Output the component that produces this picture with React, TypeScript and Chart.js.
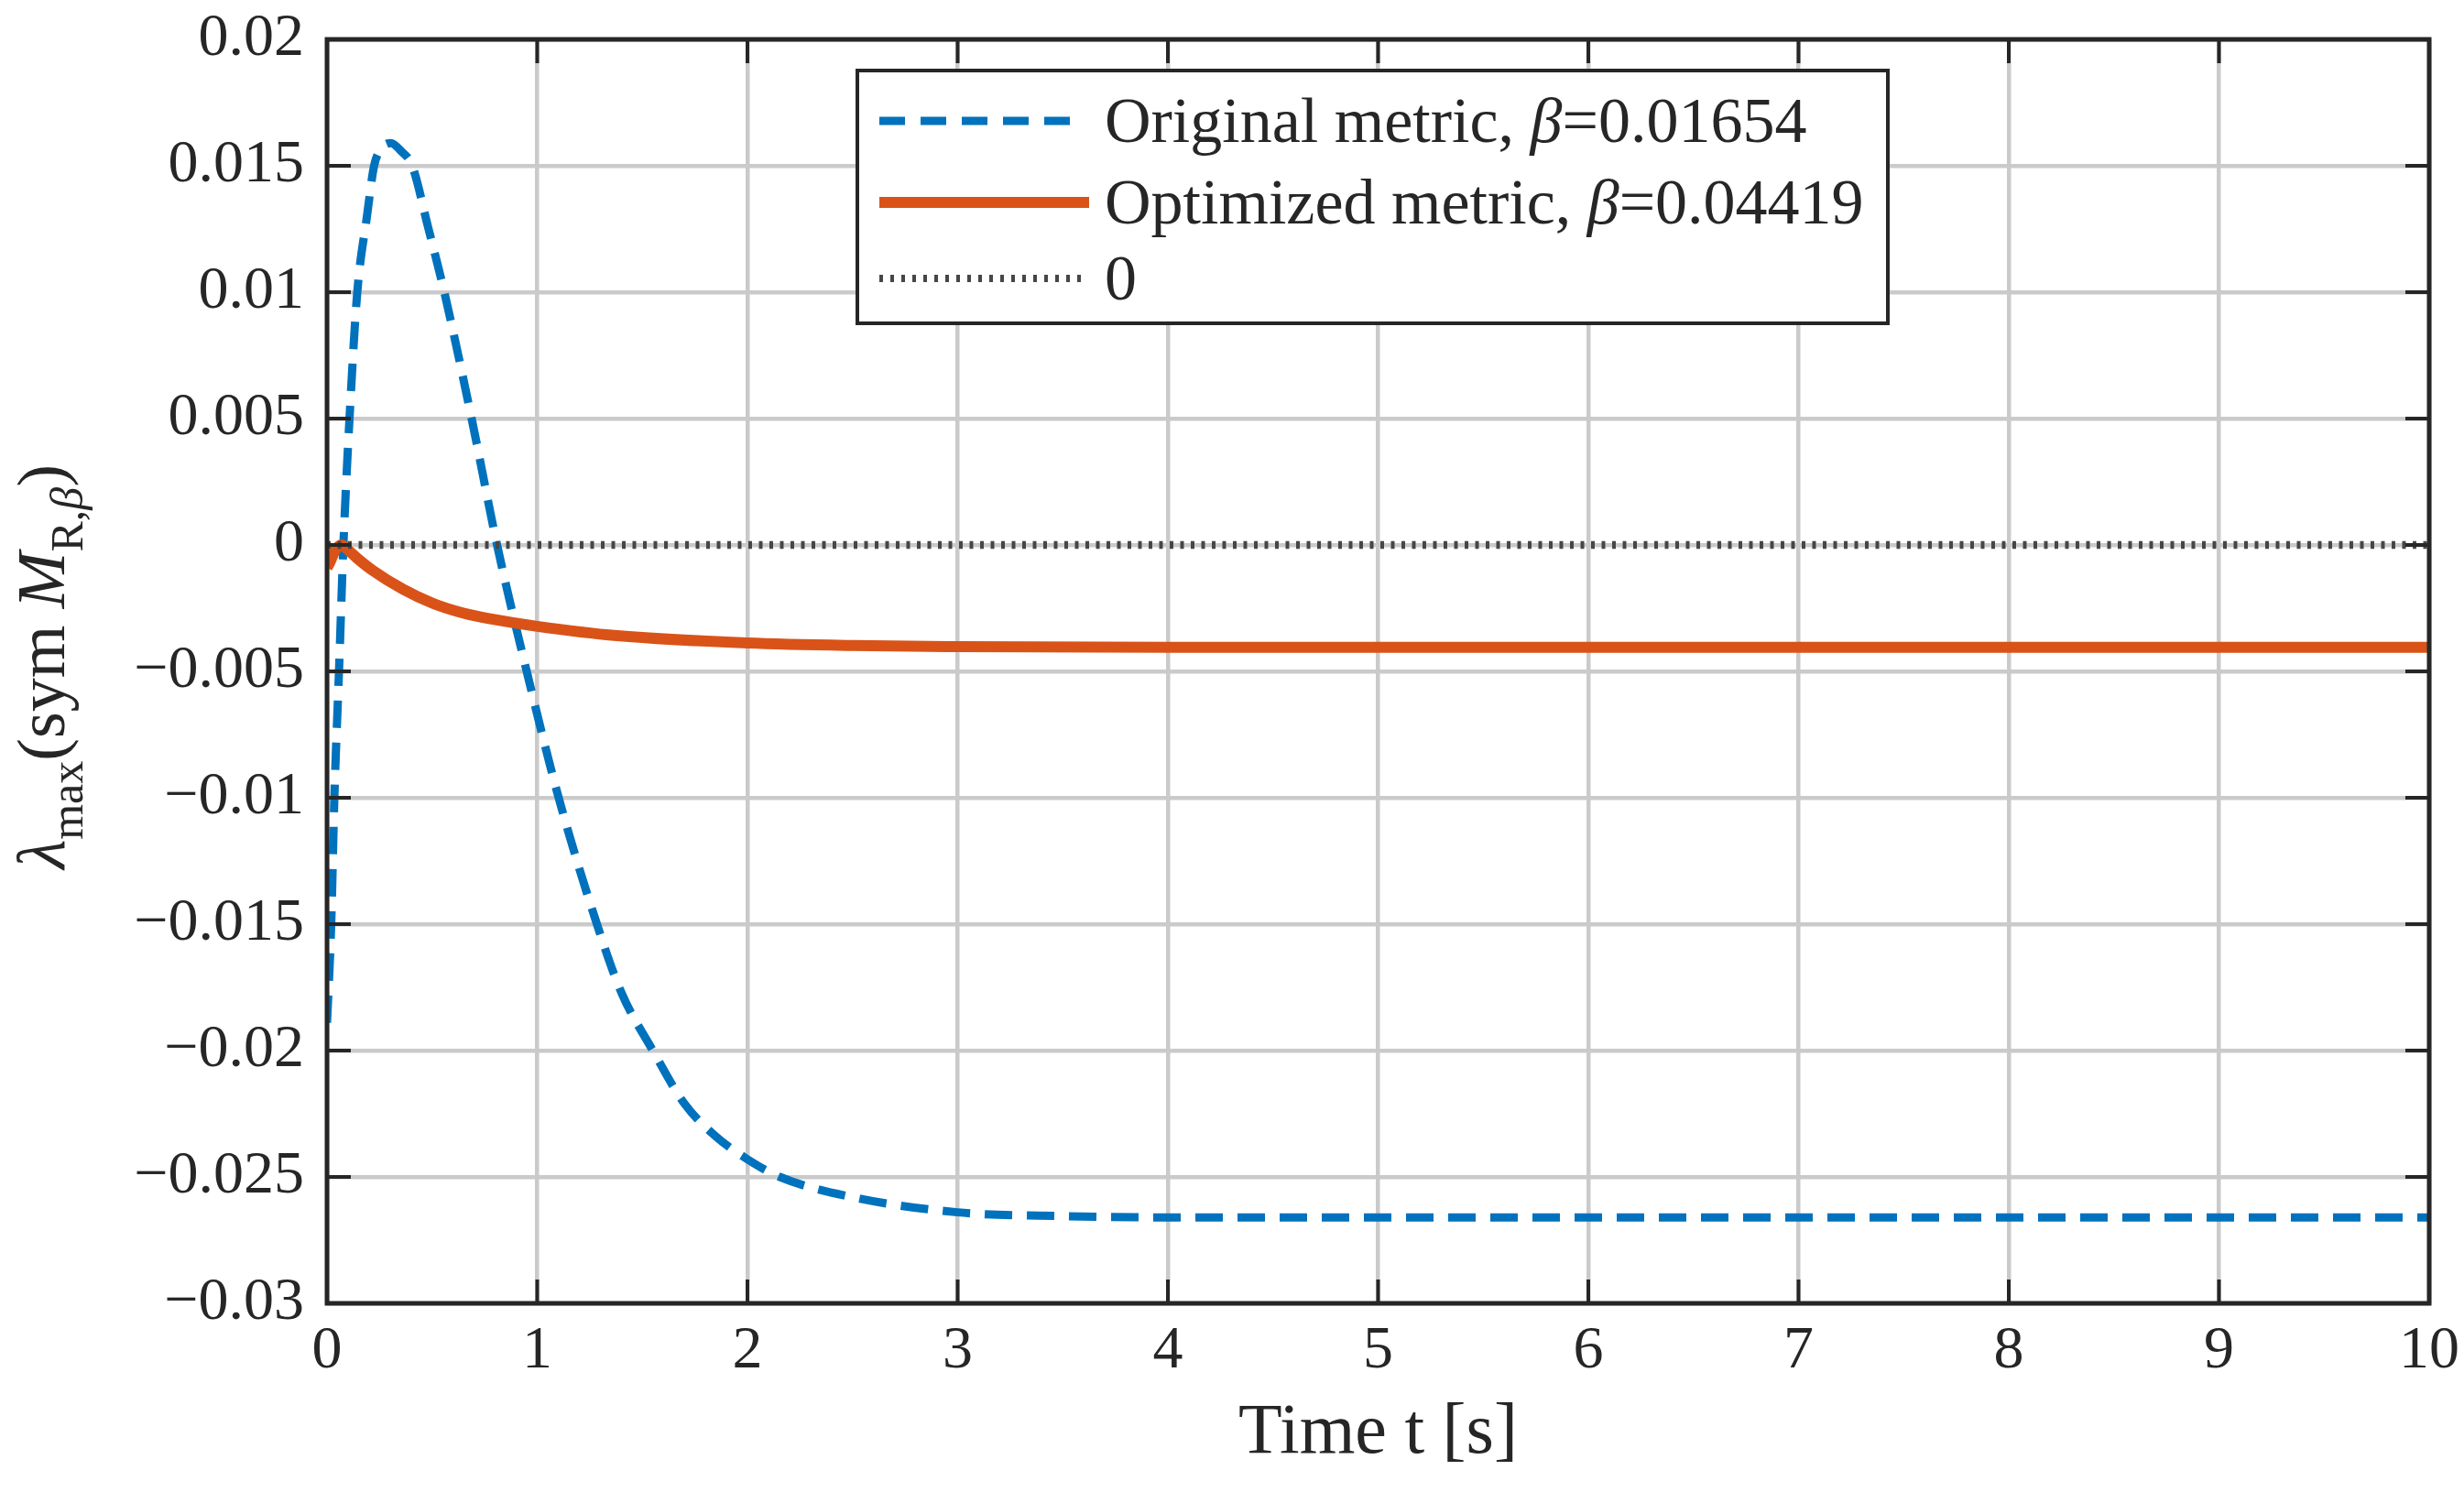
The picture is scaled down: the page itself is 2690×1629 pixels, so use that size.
import { useEffect, useRef } from "react"
import { Chart, registerables, type Plugin } from "chart.js"

Chart.register(...registerables)

const timeOriginal = [
  0, 0.02, 0.035, 0.057, 0.078, 0.107, 0.144, 0.19, 0.224, 0.26, 0.304, 0.35, 0.405, 0.48, 0.558, 0.688, 0.809,
  0.95, 1.102, 1.284, 1.4, 1.55, 1.7, 1.85, 2.0, 2.154, 2.5, 3.0, 3.5, 4.0, 5, 6, 7, 8, 9, 10,
]
const lambdaOriginal = [
  -0.0189, -0.015, -0.01, -0.005, 0, 0.005, 0.01, 0.013, 0.015, 0.0157, 0.0159, 0.0156, 0.015, 0.0126, 0.01, 0.005, 0,
  -0.005, -0.01, -0.015, -0.0177, -0.02, -0.0221, -0.0234, -0.0243, -0.025, -0.0258, -0.0264, -0.02655, -0.0266,
  -0.0266, -0.0266, -0.0266, -0.0266, -0.0266, -0.0266,
]
const timeOptimized = [
  0, 0.013, 0.04, 0.07, 0.1, 0.144, 0.216, 0.361, 0.506, 0.65, 0.796, 1.0, 1.38, 2.0, 2.5, 3.0, 4.0, 5, 6, 7, 8, 9, 10,
]
const lambdaOptimized = [
  -0.0009, -0.0007, -0.0002, 0, -0.0002, -0.00053, -0.001, -0.00175, -0.00232, -0.0027, -0.00295, -0.00322, -0.00359,
  -0.00388, -0.00398, -0.00402, -0.00405, -0.00405, -0.00405, -0.00405, -0.00405, -0.00405, -0.00405,
]
const timeZero = [0, 10]
const lambdaZero = [0, 0]

const xTicks = [0, 1, 2, 3, 4, 5, 6, 7, 8, 9, 10]
const yTicks = [-0.03, -0.025, -0.02, -0.015, -0.01, -0.005, 0, 0.005, 0.01, 0.015, 0.02]

const legendNames = ["Original metric, ", "Optimized metric, ", "0"]
const legendBetas = ["0.01654", "0.04419", ""]

const BLUE = "#0072BD"
const ORANGE = "#D95319"
const ZERO = "#464646"
const INK = "#262626"
const GRID = "#cacaca"
const SERIF = "'Liberation Serif', 'Times New Roman', serif"

const toPoints = (xs: number[], ys: number[]) => xs.map((x, i) => ({ x, y: ys[i] }))

const fmtY = (v: number) => {
  if (Math.abs(v) < 1e-9) return "0"
  const s = String(Number(Math.abs(v).toFixed(3)))
  return v < 0 ? "\u2212" + s : s
}

// chart.js would otherwise grow the outer margins for the edge tick labels
const clearPadding = (axis: any) => {
  axis.paddingTop = 0
  axis.paddingBottom = 0
  axis.paddingLeft = 0
  axis.paddingRight = 0
}

const framePlugin: Plugin<"line"> = {
  id: "matlabFrame",
  afterDraw(chart) {
    const { ctx, chartArea: a, scales } = chart
    const xs = scales.x
    const ys = scales.y
    ctx.save()

    // inward ticks on all four sides
    ctx.strokeStyle = INK
    ctx.lineWidth = 4
    ctx.beginPath()
    for (const t of xTicks) {
      const px = xs.getPixelForValue(t)
      ctx.moveTo(px, a.bottom)
      ctx.lineTo(px, a.bottom - 26)
      ctx.moveTo(px, a.top)
      ctx.lineTo(px, a.top + 26)
    }
    for (const v of yTicks) {
      const py = ys.getPixelForValue(v)
      ctx.moveTo(a.left, py)
      ctx.lineTo(a.left + 26, py)
      ctx.moveTo(a.right, py)
      ctx.lineTo(a.right - 26, py)
    }
    ctx.stroke()

    ctx.lineWidth = 5
    ctx.strokeRect(a.left, a.top, a.right - a.left, a.bottom - a.top)

    // legend box
    const bx = a.left + 579
    const by = a.top + 34
    const bw = 1125
    const bh = 276
    ctx.fillStyle = "#ffffff"
    ctx.fillRect(bx, by, bw, bh)
    ctx.lineWidth = 4
    ctx.strokeStyle = INK
    ctx.strokeRect(bx, by, bw, bh)

    const rows = [
      { color: BLUE, width: 9, dash: [28, 17], len: 212, cy: 55 },
      { color: ORANGE, width: 12, dash: [], len: 229, cy: 144 },
      { color: ZERO, width: 8, dash: [4, 8], len: 221, cy: 227 },
    ]
    rows.forEach((r, i) => {
      ctx.save()
      ctx.strokeStyle = r.color
      ctx.lineWidth = r.width
      ctx.setLineDash(r.dash)
      ctx.beginPath()
      ctx.moveTo(bx + 24, by + r.cy)
      ctx.lineTo(bx + 24 + r.len, by + r.cy)
      ctx.stroke()
      ctx.restore()

      ctx.fillStyle = INK
      ctx.textBaseline = "alphabetic"
      ctx.textAlign = "left"
      let tx = bx + 270
      const ty = by + r.cy + 23
      ctx.font = `70px ${SERIF}`
      ctx.fillText(legendNames[i], tx, ty)
      tx += ctx.measureText(legendNames[i]).width
      if (legendBetas[i]) {
        ctx.font = `italic 70px ${SERIF}`
        ctx.fillText("\u03b2", tx, ty)
        tx += ctx.measureText("\u03b2").width
        ctx.font = `70px ${SERIF}`
        ctx.fillText("=" + legendBetas[i], tx, ty)
      }
    })

    // y axis title: lambda_max(sym M_{R,beta})
    const parts = [
      { s: "\u03bb", style: "italic ", size: 74, dy: 0 },
      { s: "max", style: "", size: 50, dy: 20 },
      { s: "(sym ", style: "", size: 74, dy: 0 },
      { s: "M", style: "italic ", size: 74, dy: 0 },
      { s: "R,", style: "", size: 50, dy: 20 },
      { s: "\u03b2", style: "italic ", size: 50, dy: 20 },
      { s: ")", style: "", size: 74, dy: 0 },
    ]
    let total = 0
    for (const p of parts) {
      ctx.font = `${p.style}${p.size}px ${SERIF}`
      total += ctx.measureText(p.s).width
    }
    ctx.translate(70, (a.top + a.bottom) / 2 - 5)
    ctx.rotate(-Math.PI / 2)
    ctx.fillStyle = INK
    ctx.textBaseline = "alphabetic"
    let px = -total / 2
    for (const p of parts) {
      ctx.font = `${p.style}${p.size}px ${SERIF}`
      ctx.fillText(p.s, px, p.dy)
      px += ctx.measureText(p.s).width
    }

    ctx.restore()
  },
}

export default function App() {
  const canvasRef = useRef<HTMLCanvasElement>(null)
  const chartRef = useRef<Chart<"line"> | null>(null)

  useEffect(() => {
    document.body.style.margin = "0"
    if (!canvasRef.current) return
    if (chartRef.current) chartRef.current.destroy()

    chartRef.current = new Chart(canvasRef.current, {
      type: "line",
      data: {
        datasets: [
          {
            label: "Original metric",
            data: toPoints(timeOriginal, lambdaOriginal),
            borderColor: BLUE,
            borderWidth: 9,
            borderDash: [30, 16],
            pointRadius: 0,
            cubicInterpolationMode: "monotone",
            order: 3,
          },
          {
            label: "Optimized metric",
            data: toPoints(timeOptimized, lambdaOptimized),
            borderColor: ORANGE,
            borderWidth: 12,
            pointRadius: 0,
            cubicInterpolationMode: "monotone",
            order: 2,
          },
          {
            label: "0",
            data: toPoints(timeZero, lambdaZero),
            borderColor: ZERO,
            borderWidth: 8.5,
            borderDash: [4, 7.5],
            pointRadius: 0,
            order: 1,
          },
        ],
      },
      options: {
        animation: false,
        responsive: true,
        maintainAspectRatio: false,
        layout: { padding: { top: 43, right: 38, left: 0, bottom: 0 } },
        plugins: { legend: { display: false }, tooltip: { enabled: false } },
        scales: {
          x: {
            type: "linear",
            min: 0,
            max: 10,
            afterBuildTicks: (axis) => {
              axis.ticks = xTicks.map((value) => ({ value }))
            },
            afterFit: (axis) => {
              axis.height = 206
              clearPadding(axis)
            },
            grid: { color: GRID, lineWidth: 4.5, drawTicks: false },
            border: { display: false },
            ticks: {
              padding: 13,
              color: INK,
              font: { family: SERIF, size: 66 },
              maxRotation: 0,
              callback: (v) => String(v),
            },
            title: {
              display: true,
              text: "Time t [s]",
              color: INK,
              font: { family: SERIF, size: 78 },
              padding: { top: 0, bottom: 17 },
            },
          },
          y: {
            type: "linear",
            min: -0.03,
            max: 0.02,
            afterBuildTicks: (axis) => {
              axis.ticks = yTicks.map((value) => ({ value }))
            },
            afterFit: (axis) => {
              axis.width = 357
              clearPadding(axis)
            },
            grid: { color: GRID, lineWidth: 4.5, drawTicks: false },
            border: { display: false },
            ticks: {
              padding: 25,
              color: INK,
              font: { family: SERIF, size: 66 },
              callback: (v) => fmtY(Number(v)),
            },
          },
        },
      },
      plugins: [framePlugin],
    })

    return () => {
      if (chartRef.current) {
        chartRef.current.destroy()
        chartRef.current = null
      }
    }
  }, [])

  return (
    <div style={{ width: 2690, height: 1629, background: "#ffffff" }}>
      <canvas ref={canvasRef} />
    </div>
  )
}
